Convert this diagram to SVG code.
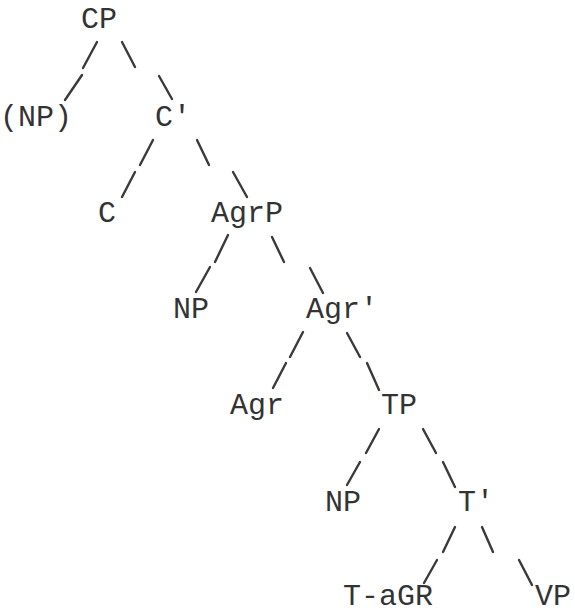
<svg xmlns="http://www.w3.org/2000/svg" width="575" height="615" viewBox="0 0 575 615">
  <style>
    .lbl { font-family: "Liberation Mono", "Courier New", monospace; font-size: 30px; fill: #333; }
    .br line { stroke: #3a3a3a; stroke-width: 2.4; stroke-linecap: round; }
  </style>
  <rect width="575" height="615" fill="#fff"/>

  <!-- branches: each drawn as two short strokes -->
  <g id="connectors" class="br">
    <line x1="97" y1="42" x2="83" y2="68"/><line x1="82" y1="75" x2="65" y2="100"/>
    <line x1="122" y1="42" x2="135" y2="67"/><line x1="159" y1="76" x2="172" y2="99"/>
    <line x1="153" y1="140" x2="140" y2="165"/><line x1="135" y1="172" x2="122" y2="197"/>
    <line x1="197" y1="140" x2="209" y2="165"/><line x1="233" y1="172" x2="247" y2="197"/>
    <line x1="228" y1="235" x2="215" y2="262"/><line x1="210" y1="267" x2="196" y2="292"/>
    <line x1="272" y1="237" x2="284" y2="262"/><line x1="310" y1="268" x2="323" y2="293"/>
    <line x1="303" y1="332" x2="290" y2="357"/><line x1="286" y1="363" x2="273" y2="388"/>
    <line x1="347" y1="333" x2="360" y2="357"/><line x1="367" y1="363" x2="379" y2="390"/>
    <line x1="379" y1="429" x2="366" y2="453"/><line x1="360" y1="462" x2="347" y2="485"/>
    <line x1="423" y1="429" x2="436" y2="453"/><line x1="443" y1="462" x2="455" y2="487"/>
    <line x1="455" y1="527" x2="443" y2="552"/><line x1="437" y1="560" x2="424" y2="583"/>
    <line x1="482" y1="527" x2="493" y2="552"/><line x1="519" y1="560" x2="532" y2="585"/>
  </g>

  <g id="cp"><text class="lbl" x="81" y="28">CP</text></g>
  <g id="np-opt"><text class="lbl" x="0" y="126">(NP)</text></g>
  <g id="c-bar"><text class="lbl" x="155" y="126">C'</text></g>
  <g id="c"><text class="lbl" x="98" y="222">C</text></g>
  <g id="agrp"><text class="lbl" x="211" y="222">AgrP</text></g>
  <g id="np-agr"><text class="lbl" x="173" y="318">NP</text></g>
  <g id="agr-bar"><text class="lbl" x="306" y="318">Agr'</text></g>
  <g id="agr"><text class="lbl" x="230" y="414">Agr</text></g>
  <g id="tp"><text class="lbl" x="381" y="414">TP</text></g>
  <g id="np-t"><text class="lbl" x="325" y="511">NP</text></g>
  <g id="t-bar"><text class="lbl" x="458" y="511">T'</text></g>
  <g id="t-agr"><text class="lbl" x="343" y="605">T-aGR</text></g>
  <g id="vp"><text class="lbl" x="535" y="605">VP</text></g>
</svg>
